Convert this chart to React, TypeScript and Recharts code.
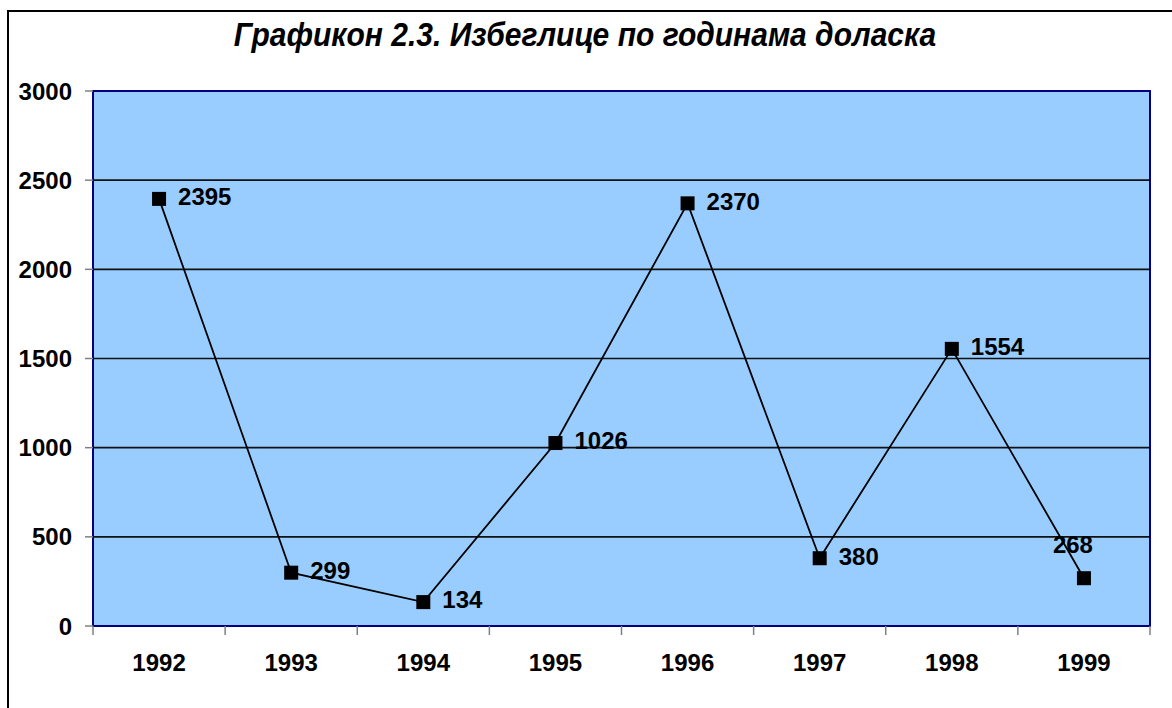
import { LineChart, Line, XAxis, YAxis, CartesianGrid, ReferenceArea, LabelList } from 'recharts'

const years = ['1992', '1993', '1994', '1995', '1996', '1997', '1998', '1999']
const refugees = [2395, 299, 134, 1026, 2370, 380, 1554, 268]
const yTicks = [0, 500, 1000, 1500, 2000, 2500, 3000]

const data = years.map((year, i) => ({ year, value: refugees[i] }))

const W = 1172
const H = 708
const M = { top: 91, right: 22, bottom: 0, left: 0 }
const X_AXIS_H = 82
const Y_AXIS_W = 93
const bandW = (W - M.left - M.right - Y_AXIS_W) / years.length
const font = "'Liberation Sans', Arial, sans-serif"

function YearTick(props: any) {
  const { x, y, payload, index } = props
  const left = x - bandW / 2
  return (
    <g>
      <line x1={left} y1={y} x2={left} y2={y + 9} stroke="#808080" strokeWidth={1.5} />
      {index === years.length - 1 && (
        <line x1={x + bandW / 2} y1={y} x2={x + bandW / 2} y2={y + 9} stroke="#808080" strokeWidth={1.5} />
      )}
      <text x={x} y={y + 39} textAnchor="middle" dominantBaseline="middle" fontFamily={font} fontWeight="bold" fontSize={24} fill="#000">
        {payload.value}
      </text>
    </g>
  )
}

function SquareDot(props: any) {
  const { cx, cy, index } = props
  return <rect key={`dot-${index}`} x={cx - 7} y={cy - 7} width={14} height={14} fill="#000" />
}

function ValueLabel(props: any) {
  const { x, y, value, index } = props
  // last point has its label above, like the original
  const above = index === refugees.length - 1
  return (
    <text
      x={above ? x - 11 : x + 19}
      y={above ? y - 32 : y}
      textAnchor={above ? 'middle' : 'start'}
      dominantBaseline="middle"
      fontFamily={font}
      fontWeight="bold"
      fontSize={24}
      fill="#000"
    >
      {value}
    </text>
  )
}

export default function App() {
  return (
    <div style={{ position: 'absolute', left: 0, top: 0, width: W, height: H, overflow: 'hidden', background: '#fff' }}>
      <div style={{ position: 'absolute', left: 7, top: 10, width: 1200, height: 800, border: '2px solid #000', boxSizing: 'border-box' }} />
      <div style={{ position: 'absolute', left: 0, top: 18, width: W, textAlign: 'center', paddingRight: 2, boxSizing: 'border-box', fontFamily: font, fontWeight: 'bold', fontStyle: 'italic', fontSize: 30, color: '#000', transform: 'scaleY(1.12)' }}>
        Графикон 2.3. Избеглице по годинама доласка
      </div>
      <div style={{ position: 'absolute', left: 0, top: 0 }}>
        <LineChart width={W} height={H} data={data} margin={M}>
          <CartesianGrid horizontal vertical={false} fill="#99CCFF" stroke="#111" strokeWidth={1.7} />
          <XAxis
            dataKey="year"
            scale="band"
            axisLine={false}
            tickLine={false}
            tickSize={0}
            tickMargin={0}
            height={X_AXIS_H}
            tick={<YearTick />}
            interval={0}
          />
          <YAxis
            domain={[0, 3000]}
            ticks={yTicks}
            width={Y_AXIS_W}
            axisLine={false}
            tickLine={{ stroke: '#808080', strokeWidth: 1.5 }}
            tickSize={8}
            tickMargin={13}
            tick={{ fill: '#000', fontFamily: font, fontWeight: 'bold', fontSize: 24 }}
          />
          <ReferenceArea y1={0} y2={3000} fill="none" stroke="#000080" strokeWidth={2} strokeOpacity={1} fillOpacity={0} />
          <Line
            dataKey="value"
            stroke="#000"
            strokeWidth={1.8}
            dot={SquareDot}
            activeDot={false}
            isAnimationActive={false}
          >
            <LabelList dataKey="value" content={ValueLabel} />
          </Line>
        </LineChart>
      </div>
    </div>
  )
}
